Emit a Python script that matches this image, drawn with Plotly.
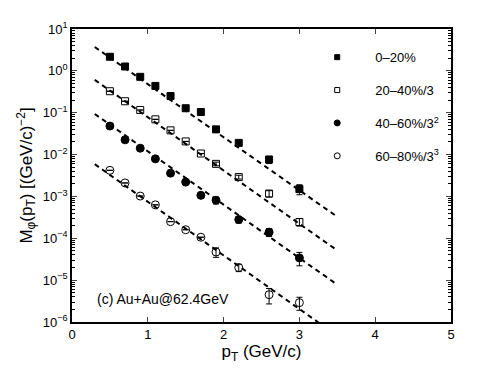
import plotly.graph_objects as go

# pT bins (GeV/c)
pt = [0.5, 0.7, 0.9, 1.1, 1.3, 1.5, 1.7, 1.9, 2.2, 2.6, 3.0]

# M_phi(pT) per centrality, already scaled as in the legend
c0_20 = [2.17, 1.27, 0.72, 0.437, 0.25, 0.128, 0.104, 0.040, 0.019, 0.0076, 0.0015]
c20_40 = [0.326, 0.188, 0.116, 0.0695, 0.0379, 0.0206, 0.0106, 0.006, 0.0029, 0.00117, 2.45e-4]
c40_60 = [0.048, 0.0225, 0.0142, 0.0079, 0.0036, 0.0022, 0.00106, 8.1e-4, 2.8e-4, 1.4e-4, 3.4e-5]
c60_80 = [0.0042, 0.0021, 0.00102, 6.3e-4, 2.5e-4, 1.6e-4, 1.06e-4, 4.7e-5, 2.0e-5, 4.5e-6, 2.9e-6]

# statistical errors (only visible at high pT)
e0_20 = [0, 0, 0, 0, 0, 0, 0, 0.003, 0.002, 0.0015, 0.0004]
e20_40 = [0, 0, 0, 0, 0, 0, 0, 0.0006, 0.0003, 0.0002, 5e-5]
e40_60 = [0, 0, 0, 0, 0, 0, 0, 1.5e-4, 5e-5, 3e-5, 1.2e-5]
e60_80 = [0, 0, 0, 0, 0, 0, 0, 1.2e-5, 4e-6, 1.8e-6, 1e-6]

# fit lines (end points)
fit_x = [0.3, 3.47]
fit1 = [3.72, 3.55e-4]
fit2 = [0.608, 5.6e-5]
fit3 = [0.0933, 8.5e-6]
fit4 = [0.00589, 5.1e-7]

labels = ["0\u201320%", "20\u201340%/3", "40\u201360%/3<sup>2</sup>", "60\u201380%/3<sup>3</sup>"]
yticks = [1e-6, 1e-5, 1e-4, 1e-3, 1e-2, 1e-1, 1e0, 1e1]
ytext = ["10<sup>\u22126</sup>", "10<sup>\u22125</sup>", "10<sup>\u22124</sup>", "10<sup>\u22123</sup>",
         "10<sup>\u22122</sup>", "10<sup>\u22121</sup>", "10<sup>0</sup>", "10<sup>1</sup>"]

fig = go.Figure()

for fy in [fit1, fit2, fit3, fit4]:
    fig.add_trace(go.Scatter(x=fit_x, y=fy, mode="lines", showlegend=False,
                             line=dict(color="black", width=2, dash="5px,4px")))

series = [
    (c0_20, e0_20, "square", 7),
    (c20_40, e20_40, "square-open", 7),
    (c40_60, e40_60, "circle", 8),
    (c60_80, e60_80, "circle-open", 8),
]
pad = "\u00a0" * 5  # wider gap between key symbol and label
for i, (vals, errs, sym, sz) in enumerate(series):
    fig.add_trace(go.Scatter(
        x=pt, y=vals, mode="markers", showlegend=False,
        marker=dict(symbol=sym, size=sz, color="black", line=dict(color="black", width=1)),
        error_y=dict(type="data", array=errs, color="black", thickness=1, width=3),
    ))
    # legend entry with the smaller symbol used in the original key
    fig.add_trace(go.Scatter(
        x=[None], y=[None], mode="markers", name=pad + labels[i], legendgroup=str(i),
        marker=dict(symbol=sym, size=sz - 2, color="black", line=dict(color="black", width=1)),
    ))

fig.add_annotation(x=0.3, y=-5.45, xref="x", yref="y", text="(c) Au+Au@62.4GeV",
                   showarrow=False, xanchor="left", font=dict(size=14, color="black"))

# page body adds an 8px offset, so the figure is a bit smaller than the window
fig.update_layout(
    width=490, height=365,
    margin=dict(l=64, r=47, t=21, b=51, autoexpand=False),
    paper_bgcolor="white", plot_bgcolor="white",
    font=dict(family="Liberation Sans, Arial, sans-serif", size=13, color="black"),
    legend=dict(x=0.647, y=0.955, xanchor="left", yanchor="top", traceorder="grouped",
                tracegroupgap=13, bgcolor="rgba(0,0,0,0)", font=dict(size=13)),
    xaxis=dict(range=[0, 5], dtick=1, ticks="inside", ticklen=5, mirror="ticks",
               showline=True, linecolor="black", linewidth=1.5, showgrid=False, zeroline=False,
               automargin=False,
               title=dict(text="p<sub>T</sub> (GeV/c)", font=dict(size=17), standoff=2)),
    yaxis=dict(type="log", range=[-6, 1], tickmode="array", tickvals=yticks, ticktext=ytext,
               ticks="inside", ticklen=5, mirror="ticks", automargin=False,
               minor=dict(ticks="inside", ticklen=3, dtick="D1", tickcolor="black"),
               showline=True, linecolor="black", linewidth=1.5, showgrid=False, zeroline=False,
               title=dict(text="M<sub>\u03c6</sub>(p<sub>T</sub>) [(GeV/c)<sup>\u22122</sup>]",
                          font=dict(size=17), standoff=6)),
)

fig.write_html("out.html")
